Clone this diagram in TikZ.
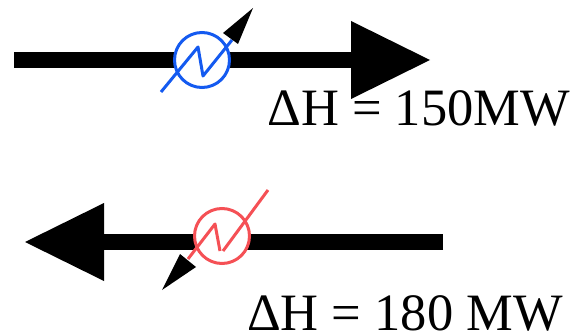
\documentclass[tikz,border=0pt]{standalone}
\usepackage{fontspec}
\setmainfont{Liberation Serif}
\definecolor{xfblue}{RGB}{20,90,240}
\definecolor{xfred}{RGB}{245,80,85}
\begin{document}
\begin{tikzpicture}[x=1pt,y=-1pt,line cap=butt,line join=miter,every node/.style={inner sep=0pt}]
  \tikzset{
    flowline/.style={line width=16,draw=black},
    flowhead/.style={fill=black,draw=none},
    xfcircle/.style={circle,draw,line width=3,fill=white,minimum size=55},
    xfline/.style={line width=3,line join=round},
    powerlabel/.style={font=\fontsize{52.5}{52.5}\selectfont,anchor=base east}
  }
  \useasboundingbox (0,0) rectangle (576,334);
  % top flow
  \coordinate (topstart) at (14,60);
  \coordinate (topneck) at (351,60);
  \draw[flowline] (topstart) -- (topneck);
  \fill[flowhead] (351,21) -- (430,60) -- (351,99) -- cycle;
  \node[xfcircle,draw=xfblue] (topxf) at (202,60) {};
  \draw[xfblue,xfline] (161,92) -- (198,47) -- (203,76) -- (232,40);
  \fill[black] (253,8) -- (223,33) -- (238,44) -- cycle;
  \node[powerlabel] (toplabel) at (570,126) {ΔH = 150MW};
  % bottom flow
  \coordinate (botstart) at (443,242);
  \coordinate (botneck) at (104,242);
  \draw[flowline] (botstart) -- (botneck);
  \fill[flowhead] (104,203) -- (25,242) -- (104,281) -- cycle;
  \node[xfcircle,draw=xfred] (botxf) at (222,236) {};
  \draw[xfred,xfline] (268,190) -- (223,251);
  \draw[xfred,xfline] (220,251) -- (215,224) -- (188,259);
  \fill[black] (162,290) -- (180,254) -- (196,267) -- cycle;
  \node[powerlabel] (botlabel) at (563,330) {ΔH = 180 MW};
\end{tikzpicture}
\end{document}
